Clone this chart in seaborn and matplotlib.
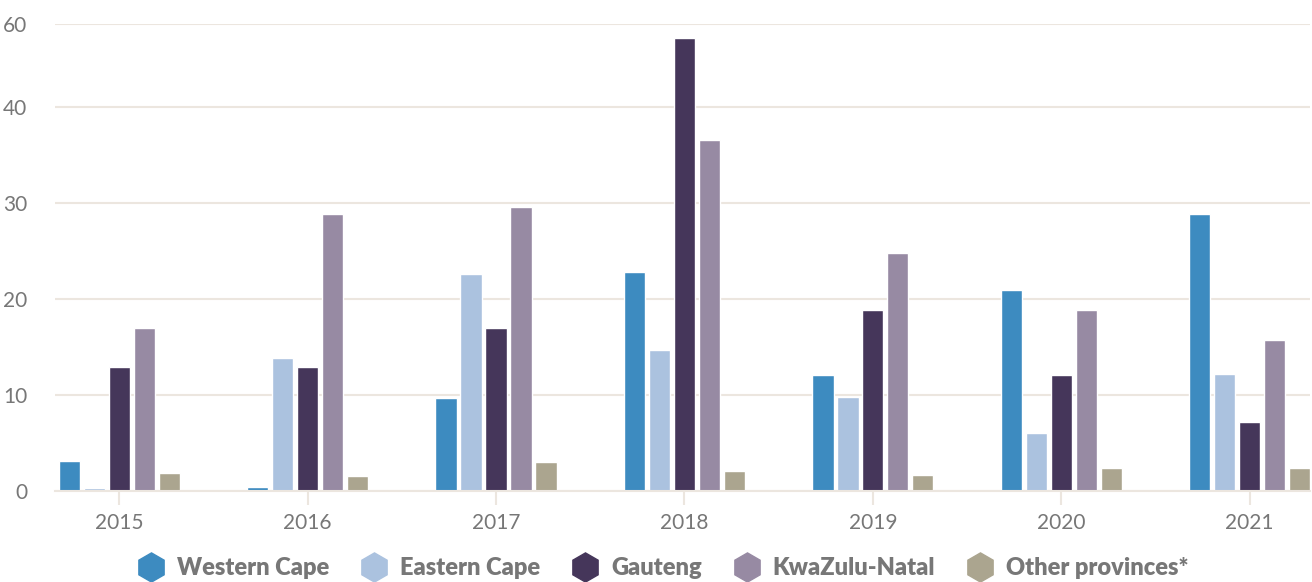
import matplotlib
matplotlib.use("Agg")
import matplotlib.pyplot as plt
from matplotlib.lines import Line2D
import numpy as np
import pandas as pd
import seaborn as sns

years = ["2015", "2016", "2017", "2018", "2019", "2020", "2021"]
provinces = ["Western Cape", "Eastern Cape", "Gauteng", "KwaZulu-Natal", "Other provinces*"]
western_cape = [3.1, 0.4, 9.7, 22.8, 12.1, 20.9, 28.8]
eastern_cape = [0.3, 13.8, 22.6, 14.7, 9.8, 6.0, 12.2]
gauteng = [12.9, 12.9, 17.0, 56.6, 18.8, 12.1, 7.2]
kwazulu_natal = [17.0, 28.8, 29.6, 36.5, 24.8, 18.8, 15.7]
other = [1.9, 1.6, 3.0, 2.1, 1.7, 2.4, 2.4]
y_ticks = [0, 10, 20, 30, 40, 60]

colors = ["#3d8bc0", "#abc2df", "#45365a", "#978aa3", "#aba58f"]

series = [western_cape, eastern_cape, gauteng, kwazulu_natal, other]
df = pd.DataFrame(
    [(y, p, v) for p, vals in zip(provinces, series) for y, v in zip(years, vals)],
    columns=["year", "province", "value"],
)

# axis above 40 is compressed in the original chart
K = 0.43


def fwd(v):
    v = np.asarray(v, dtype=float)
    return np.where(v <= 40, v, 40 + (v - 40) * K)


def inv(v):
    v = np.asarray(v, dtype=float)
    return np.where(v <= 40, v, 40 + (v - 40) / K)


sns.set_theme(style="white")
plt.rcParams["font.family"] = ["Lato", "DejaVu Sans"]

fig = plt.figure(figsize=(13.12, 5.82), dpi=100)
ax = fig.add_axes([0.042, 0.1564, 0.9565, 0.8024])

sns.barplot(data=df, x="year", y="value", hue="province", palette=colors,
            width=0.663, gap=0.15, saturation=1, legend=False, ax=ax)

ax.set_yscale("function", functions=(fwd, inv))
ax.set_ylim(0, 60)
ax.set_yticks(y_ticks)
ax.set_yticklabels([str(t) for t in y_ticks])
ax.set_xlim(-0.34, 6.32)
ax.set_xlabel("")
ax.set_ylabel("")

grid_color = "#ece6df"
ax.yaxis.grid(True, color=grid_color, linewidth=1.5)
ax.set_axisbelow(True)
for s in ["left", "right", "top"]:
    ax.spines[s].set_visible(False)
ax.spines["bottom"].set_color(grid_color)
ax.spines["bottom"].set_linewidth(1.5)

ax.tick_params(axis="y", length=0, pad=20, labelsize=15, labelcolor="#777777")
ax.tick_params(axis="x", length=10, width=1.5, color=grid_color, pad=6,
               labelsize=15, labelcolor="#777777", bottom=True)

handles = [Line2D([0], [0], marker="h", linestyle="none", markersize=21,
                  markerfacecolor=c, markeredgecolor=c) for c in colors]
leg = fig.legend(handles, provinces, loc="center", bbox_to_anchor=(0.505, 0.024),
                 ncol=5, frameon=False, handlelength=1.2, handletextpad=0.5,
                 columnspacing=1.3, prop={"size": 17, "weight": "heavy"})
for t in leg.get_texts():
    t.set_color("#777777")

fig.savefig("out.png", dpi=100)
